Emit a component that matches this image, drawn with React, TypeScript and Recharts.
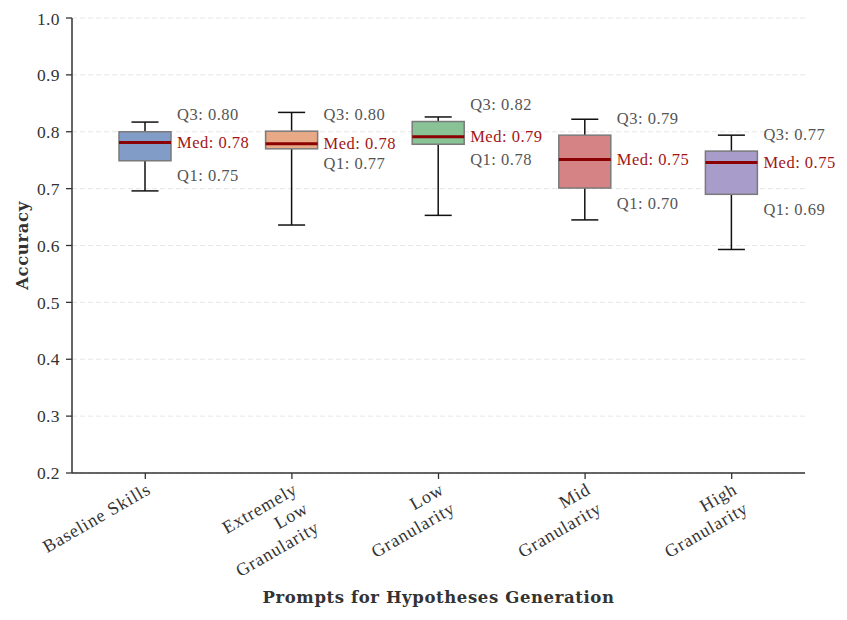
import React from "react";
import { Bar, CartesianGrid, ComposedChart, Label, XAxis, YAxis } from "recharts";

const categories = [
  "Baseline Skills",
  "Extremely\nLow\nGranularity",
  "Low\nGranularity",
  "Mid\nGranularity",
  "High\nGranularity",
];
const whiskerLow = [0.696, 0.636, 0.653, 0.645, 0.593];
const q1 = [0.749, 0.77, 0.778, 0.701, 0.69];
const median = [0.781, 0.779, 0.791, 0.751, 0.746];
const q3 = [0.8, 0.801, 0.818, 0.794, 0.766];
const whiskerHigh = [0.817, 0.834, 0.826, 0.822, 0.794];
const boxColors = ["#829cc8", "#e7a986", "#88c295", "#d68386", "#a79cca"];
const yTicks = [0.2, 0.3, 0.4, 0.5, 0.6, 0.7, 0.8, 0.9, 1.0];

const data = categories.map((name, i) => ({ name, range: [whiskerLow[i], whiskerHigh[i]] }));

const SERIF = "'Liberation Serif', 'DejaVu Serif', serif";
const BOLD_SERIF = "'DejaVu Serif', serif";

function BoxShape(props: any) {
  const { x, y, width, height } = props;
  const i = props.index ?? categories.indexOf(props.payload?.name);
  const top = Math.min(y, y + height);
  const bottom = Math.max(y, y + height);
  const lo = whiskerLow[i];
  const hi = whiskerHigh[i];
  // map a value onto the same pixel scale the bar was drawn with
  const py = (v: number) => top + ((hi - v) / (hi - lo)) * (bottom - top);
  const cx = x + width / 2;
  const yQ1 = py(q1[i]);
  const yQ3 = py(q3[i]);
  const yMed = py(median[i]);
  const cap = width * 0.26;
  const lx = cx + 32;
  const txt = { fontFamily: SERIF, fontSize: 16.5, letterSpacing: 0.5 };
  return (
    <g>
      <line x1={cx} x2={cx} y1={top} y2={yQ3} stroke="#111" strokeWidth={1.5} />
      <line x1={cx} x2={cx} y1={yQ1} y2={bottom} stroke="#111" strokeWidth={1.5} />
      <line x1={cx - cap} x2={cx + cap} y1={top} y2={top} stroke="#111" strokeWidth={1.5} />
      <line x1={cx - cap} x2={cx + cap} y1={bottom} y2={bottom} stroke="#111" strokeWidth={1.5} />
      <rect x={x} y={yQ3} width={width} height={yQ1 - yQ3} fill={boxColors[i]} stroke="#7a7a7a" strokeWidth={1.5} />
      <line x1={x} x2={x + width} y1={yMed} y2={yMed} stroke="#8b0000" strokeWidth={3} />
      <text x={lx} y={yQ3 - 17} dominantBaseline="central" {...txt} fill="#555">
        Q3: {q3[i].toFixed(2)}
      </text>
      <text x={lx} y={yMed} dominantBaseline="central" {...txt} fill="#a31515">
        Med: {median[i].toFixed(2)}
      </text>
      <text x={lx} y={yQ1 + 15} dominantBaseline="central" {...txt} fill="#555">
        Q1: {q1[i].toFixed(2)}
      </text>
    </g>
  );
}

function XTick(props: any) {
  const { x, y, payload } = props;
  const lines = String(payload.value).split("\n");
  return (
    <g transform={`translate(${x},${y})`}>
      <text
        transform="rotate(-30)"
        textAnchor="end"
        fontFamily={SERIF}
        fontSize={18}
        letterSpacing={0.9}
        fill="#333"
      >
        {lines.map((l, k) => (
          <tspan key={k} x={0} dy={k === 0 ? "0.75em" : "1.22em"}>
            {l}
          </tspan>
        ))}
      </text>
    </g>
  );
}

export default function App() {
  return (
    <ComposedChart width={839} height={612} data={data} margin={{ top: 10, right: 42, bottom: 0, left: 0 }}>
      <CartesianGrid vertical={false} stroke="#e6e6e6" strokeDasharray="5 3" />
      <XAxis
        dataKey="name"
        interval={0}
        height={147}
        tick={<XTick />}
        tickSize={6}
        tickLine={{ stroke: "#333", strokeWidth: 1.3 }}
        axisLine={{ stroke: "#333", strokeWidth: 1.5 }}
      >
        <Label
          content={({ viewBox }: any) => (
            <text
              x={viewBox.x + viewBox.width / 2}
              y={viewBox.y + viewBox.height - 17}
              textAnchor="middle"
              fontFamily={BOLD_SERIF}
              fontWeight="bold"
              fontSize={16.5}
              letterSpacing={0.6}
              fill="#333"
            >
              Prompts for Hypotheses Generation
            </text>
          )}
        />
      </XAxis>
      <YAxis
        width={64}
        domain={[0.2, 1]}
        ticks={yTicks}
        tickFormatter={(v: number) => v.toFixed(1)}
        tick={{ fontFamily: SERIF, fontSize: 17.5, fill: "#333", letterSpacing: 0.4 }}
        tickSize={6}
        tickMargin={6}
        tickLine={{ stroke: "#333", strokeWidth: 1.3 }}
        axisLine={{ stroke: "#333", strokeWidth: 1.5 }}
      >
        <Label
          content={({ viewBox }: any) => {
            const cy = viewBox.y + viewBox.height / 2;
            return (
              <text
                x={14}
                y={cy}
                transform={`rotate(-90, 14, ${cy})`}
                textAnchor="middle"
                dominantBaseline="central"
                fontFamily={BOLD_SERIF}
                fontWeight="bold"
                fontSize={16.5}
                letterSpacing={0.6}
                fill="#333"
              >
                Accuracy
              </text>
            );
          }}
        />
      </YAxis>
      <Bar dataKey="range" barSize={52} shape={<BoxShape />} isAnimationActive={false} />
    </ComposedChart>
  );
}
